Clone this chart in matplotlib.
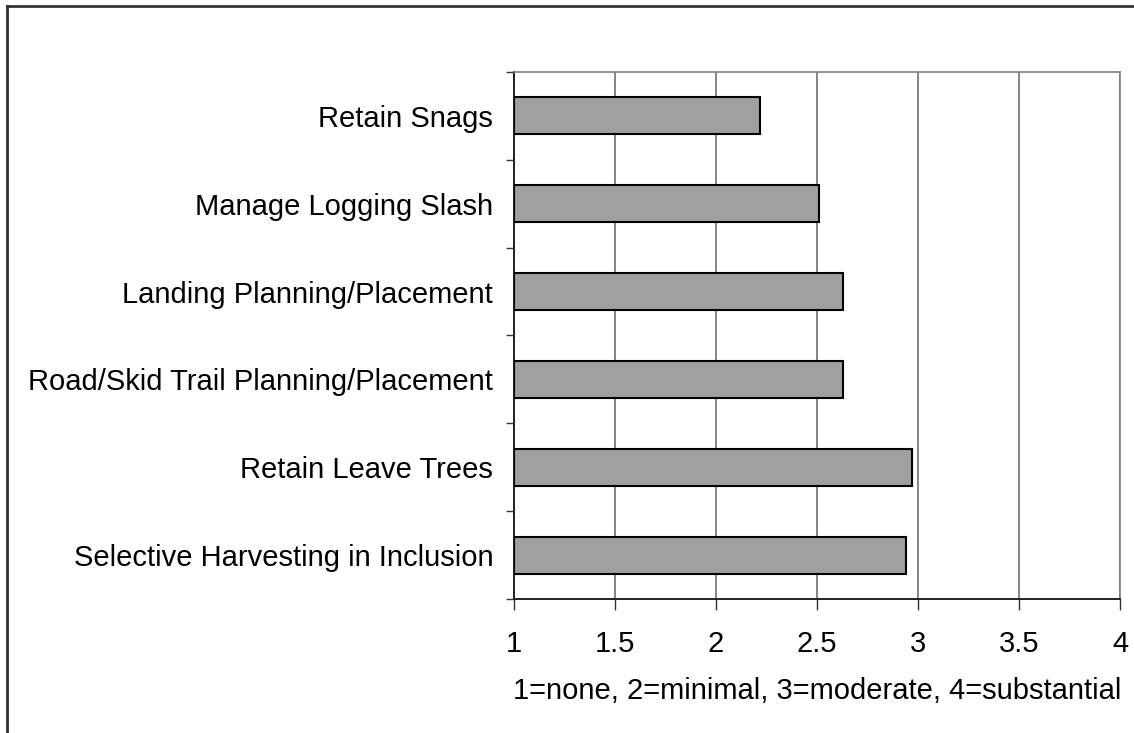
import numpy as np
import matplotlib.pyplot as plt
from matplotlib.lines import Line2D

plt.rcParams['font.family'] = ['Liberation Sans', 'DejaVu Sans']

#%% data (top to bottom as shown)
practices = ['Retain Snags', 'Manage Logging Slash', 'Landing Planning/Placement',
             'Road/Skid Trail Planning/Placement', 'Retain Leave Trees',
             'Selective Harvesting in Inclusion']
scores = [2.22, 2.51, 2.63, 2.63, 2.97, 2.94]
xticks = [1, 1.5, 2, 2.5, 3, 3.5, 4]
xtick_labels = ['1', '1.5', '2', '2.5', '3', '3.5', '4']
scale_note = '1=none, 2=minimal, 3=moderate, 4=substantial'

#%% plotting
fig = plt.figure(figsize=(11.34, 7.33), dpi=100)
ax = fig.add_axes([0.4533, 0.1828, 0.5344, 0.7190])

y = np.arange(len(practices))[::-1]
ax.barh(y, np.array(scores) - 1, left=1, height=0.42, color='#a0a0a0',
        edgecolor='black', linewidth=1.5, zorder=3)

fs = 21
ax.set_xlim(1, 4)
ax.set_ylim(-0.5, len(practices) - 0.5)
ax.set_xticks(xticks)
ax.set_xticklabels(xtick_labels, fontsize=fs)
ax.set_yticks(y)
ax.set_yticklabels(practices, fontsize=fs)
ax.set_yticks(np.arange(-0.5, len(practices), 1), minor=True)

ax.tick_params(axis='y', which='major', length=0, pad=15)
ax.tick_params(axis='y', which='minor', length=6, width=1, color='#333333')
ax.tick_params(axis='x', length=8, width=1, direction='out', pad=14, color='#333333')

ax.grid(axis='x', color='#707070', linewidth=1.2, zorder=0)
ax.set_axisbelow(True)
for s in ['top', 'right']:
    ax.spines[s].set_color('#808080')
    ax.spines[s].set_linewidth(1.2)
for s in ['left', 'bottom']:
    ax.spines[s].set_color('#222222')
    ax.spines[s].set_linewidth(1.4)

ax.set_xlabel(scale_note, fontsize=fs, labelpad=14)

# outer chart border (left and top edges only visible)
fig.add_artist(Line2D([0.0065, 0.0065], [0.0, 0.9918], transform=fig.transFigure,
                      color='#333333', linewidth=2))
fig.add_artist(Line2D([0.0065, 1.0], [0.9918, 0.9918], transform=fig.transFigure,
                      color='#333333', linewidth=2))

fig.savefig('out.png', dpi=100)
